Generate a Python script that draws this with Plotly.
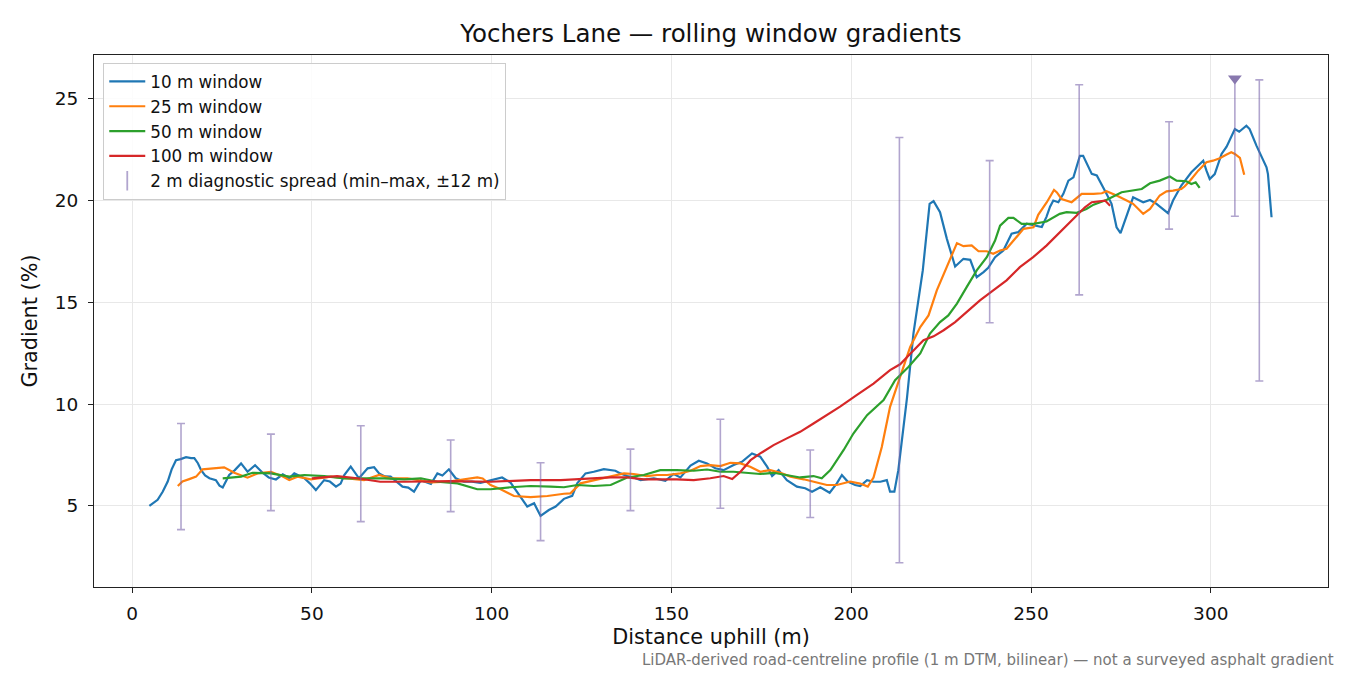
import plotly.graph_objects as go

# ---------------- data ----------------
x10 = [4.8, 6.0, 7.1, 8.5, 9.9, 11.0, 12.2, 13.5, 15.0, 16.4, 17.3, 18.3, 19.2, 20.3, 21.5, 23.3, 24.3,
       25.2, 27.0, 28.5, 30.3, 32.1, 34.2, 36.3, 38.0, 40.0, 41.9, 43.7, 45.1, 47.9, 49.5, 51.1, 53.4,
       55.0, 56.7, 58.0, 59.0, 60.8, 63.1, 65.5, 67.3, 68.7, 70.3, 71.9, 73.5, 75.2, 76.8, 78.4, 80.3,
       83.1, 84.9, 86.3, 88.1, 90.0, 92.3, 94.5, 96.9, 100.2, 102.9, 105.3, 107.6, 109.9, 111.8, 113.6,
       115.9, 117.8, 120.1, 121.5, 122.4, 123.8, 126.1, 128.4, 131.2, 134.4, 135.8, 137.7, 139.5, 141.4,
       145.1, 148.3, 150.6, 152.5, 155.3, 157.6, 159.9, 162.2, 164.5, 167.3, 169.6, 172.4, 174.7, 176.6,
       178.0, 179.8, 182.1, 184.9, 187.2, 189.1, 191.4, 194.0, 196.0, 197.4, 199.0, 201.1, 202.5, 204.4,
       206.2, 208.1, 209.9, 210.8, 212.0, 213.1, 215.5, 217.3, 219.9, 221.8, 222.9, 224.7, 226.6, 228.9,
       231.2, 233.1, 234.9, 236.8, 238.1, 240.0, 242.3, 244.6, 246.5, 248.8, 251.6, 253.0, 254.3, 255.3,
       256.2, 257.6, 259.0, 260.4, 261.8, 262.7, 263.6, 264.5, 265.9, 266.9, 268.3, 269.6, 271.0, 272.4,
       273.8, 274.9, 276.6, 278.4, 281.2, 283.1, 284.9, 288.1, 289.5, 291.8, 294.6, 296.5, 297.9, 298.8,
       299.7, 301.1, 303.0, 304.4, 305.7, 306.7, 307.9, 309.9, 310.8, 312.7, 315.5, 315.9, 316.9]
g10 = [5.0, 5.15, 5.3, 5.7, 6.2, 6.8, 7.25, 7.3, 7.4, 7.35, 7.35, 7.1, 6.76, 6.5, 6.36, 6.27, 6.0,
       5.91, 6.52, 6.75, 7.09, 6.68, 7.0, 6.63, 6.4, 6.3, 6.55, 6.36, 6.6, 6.36, 6.1, 5.78, 6.27,
       6.2, 5.95, 6.1, 6.52, 6.93, 6.36, 6.85, 6.9, 6.6, 6.45, 6.44, 6.2, 5.95, 5.9, 5.7, 6.27,
       6.08, 6.6, 6.5, 6.8, 6.36, 6.19, 6.2, 6.14, 6.27, 6.4, 6.14, 5.54, 4.97, 5.13, 4.51,
       4.8, 4.97, 5.35, 5.46, 5.5, 6.11, 6.6, 6.68, 6.81, 6.73, 6.6, 6.47, 6.4, 6.27,
       6.36, 6.23, 6.57, 6.4, 6.98, 7.22, 7.09, 6.85, 6.76, 7.01, 7.17, 7.58, 7.42, 6.93,
       6.47, 6.76, 6.27, 5.95, 5.87, 5.7, 5.92, 5.65, 6.11, 6.52, 6.2, 6.03, 5.98, 6.27,
       6.19, 6.19, 6.27, 5.7, 5.7, 6.76, 10.3, 13.47, 16.57, 19.84, 19.97, 19.43, 18.12, 16.76,
       17.14, 17.09, 16.24, 16.49, 16.7, 17.22, 17.55, 18.37, 18.45, 18.86, 18.77, 18.7, 19.2, 19.7,
       20.0, 19.92, 20.33, 20.98, 21.14, 21.63, 22.2, 22.2, 21.63, 21.31, 21.23, 20.82, 20.33, 19.84,
       18.69, 18.4, 19.26, 20.16, 19.92, 20.03, 19.84, 19.38, 20.0, 20.74, 21.39, 21.71, 21.96, 21.47,
       21.06, 21.3, 22.29, 22.65, 23.1, 23.51, 23.38, 23.68, 23.51, 22.7, 21.63, 21.3, 19.18]

x25 = [12.7, 14.0, 15.9, 17.8, 19.6, 22.9, 25.6, 28.4, 32.1, 34.9, 38.6, 41.4, 43.7, 46.0, 49.7, 55.3,
       60.8, 64.5, 68.7, 71.9, 76.6, 83.1, 87.7, 92.3, 96.0, 97.5, 99.7, 102.5, 106.2, 110.8, 115.5,
       120.1, 121.9, 124.7, 128.4, 133.1, 136.8, 139.5, 143.2, 146.0, 148.8, 152.5, 155.3, 158.1, 160.8,
       163.6, 166.4, 169.2, 171.9, 174.7, 177.5, 180.3, 183.1, 186.8, 189.5, 193.2, 196.0, 199.7, 202.5,
       204.6, 206.2, 208.5, 210.8, 213.6, 216.4, 219.2, 221.5, 223.8, 227.0, 229.4, 231.2, 233.5, 235.4,
       237.7, 239.5, 241.4, 243.2, 245.1, 247.9, 250.7, 252.0, 254.4, 256.4, 257.2, 258.5, 261.3, 264.1,
       267.4, 269.7, 271.0, 273.8, 276.6, 278.4, 281.2, 283.1, 285.8, 287.7, 289.5, 291.8, 292.7, 294.4,
       296.5, 298.8, 300.6, 302.5, 304.4, 305.7, 306.7, 308.1, 309.3]
g25 = [5.98, 6.2, 6.32, 6.44, 6.8, 6.85, 6.9, 6.63, 6.39, 6.6, 6.68, 6.49, 6.27, 6.44, 6.31, 6.44,
       6.36, 6.27, 6.52, 6.36, 6.36, 6.16, 6.19, 6.32, 6.4, 6.35, 6.03, 5.82, 5.49, 5.43, 5.49,
       5.6, 5.62, 6.11, 6.27, 6.44, 6.6, 6.57, 6.47, 6.52, 6.52, 6.6, 6.73, 6.96, 7.01,
       6.96, 7.12, 7.09, 6.93, 6.68, 6.76, 6.63, 6.44, 6.31, 6.19, 6.03, 6.03, 6.2, 6.1,
       5.95, 6.4, 7.9, 9.87, 11.34, 12.81, 13.79, 14.36, 15.59, 16.9, 17.91, 17.76, 17.8, 17.51,
       17.51, 17.39, 17.55, 17.63, 18.04, 18.61, 18.69, 19.3, 19.92, 20.52, 20.4, 20.08, 19.92, 20.33,
       20.33, 20.36, 20.46, 20.25, 20.0, 19.84, 19.35, 19.59, 20.25, 20.45, 20.49, 20.57, 20.69, 21.01,
       21.47, 21.88, 21.96, 22.08, 22.26, 22.37, 22.29, 22.1, 21.27]

x50 = [25.2, 30.3, 33.5, 38.6, 43.7, 47.9, 53.4, 59.0, 64.5, 70.1, 75.7, 80.3, 84.9, 90.5, 96.0, 99.7,
       105.3, 110.8, 116.4, 120.1, 123.8, 128.4, 133.1, 137.7, 142.3, 146.9, 151.5, 156.2, 159.9, 163.6,
       167.3, 171.0, 174.7, 178.4, 182.1, 185.8, 189.5, 191.8, 194.2, 197.9, 200.6, 204.4, 209.0, 212.2,
       215.9, 219.2, 221.9, 224.7, 227.0, 229.4, 232.1, 234.9, 237.7, 240.0, 241.4, 243.7, 245.1, 247.4,
       250.7, 254.3, 258.0, 259.9, 262.7, 265.4, 267.4, 271.1, 275.2, 278.4, 280.8, 283.1, 285.8, 288.6,
       290.5, 293.2, 294.6, 295.8, 296.9]
g50 = [6.36, 6.44, 6.63, 6.6, 6.44, 6.52, 6.47, 6.36, 6.36, 6.36, 6.31, 6.36, 6.19, 6.11, 5.82, 5.82,
       5.92, 5.98, 5.95, 5.92, 6.03, 5.98, 6.03, 6.4, 6.52, 6.76, 6.76, 6.73, 6.79, 6.68,
       6.68, 6.63, 6.57, 6.63, 6.52, 6.4, 6.47, 6.36, 6.76, 7.75, 8.56, 9.46, 10.2, 11.18,
       11.83, 12.49, 13.47, 14.03, 14.36, 14.94, 15.75, 16.57, 17.22, 18.04, 18.77, 19.15, 19.15, 18.86,
       18.86, 18.97, 19.35, 19.43, 19.4, 19.59, 19.8, 20.04, 20.41, 20.49, 20.57, 20.85, 20.98, 21.18,
       20.98, 20.95, 20.81, 20.9, 20.62]

x100 = [50.0, 57.0, 62.6, 69.0, 75.7, 83.1, 88.5, 99.7, 110.8, 119.2, 124.3, 128.4, 133.1, 137.7, 142.3,
        146.9, 151.5, 156.2, 160.8, 164.5, 166.9, 169.2, 172.0, 174.7, 178.4, 182.1, 185.8, 189.5, 193.2,
        196.9, 201.5, 206.2, 210.8, 213.6, 216.9, 220.1, 222.9, 225.7, 228.9, 232.1, 235.8, 239.5, 243.2,
        246.9, 250.6, 254.3, 258.0, 261.8, 265.0, 266.9, 270.6, 272.0]
g100 = [6.36, 6.47, 6.36, 6.19, 6.19, 6.22, 6.22, 6.19, 6.27, 6.27, 6.32, 6.36, 6.4, 6.4, 6.31,
        6.31, 6.31, 6.27, 6.36, 6.47, 6.32, 6.68, 7.25, 7.58, 7.99, 8.32, 8.64, 9.05, 9.46,
        9.88, 10.44, 11.01, 11.67, 11.96, 12.56, 13.14, 13.33, 13.63, 14.03, 14.52, 15.1, 15.59, 16.08,
        16.73, 17.22, 17.79, 18.45, 19.1, 19.67, 19.92, 20.0, 19.75]

spread_x = [13.6, 38.6, 63.6, 88.6, 113.6, 138.6, 163.6, 188.6, 213.4, 238.5, 263.4, 288.4, 306.7, 313.5]
spread_lo = [3.84, 4.77, 4.23, 4.72, 3.30, 4.77, 4.89, 4.43, 2.21, 14.0, 15.37, 18.6, 19.23, 11.14]
spread_hi = [9.05, 8.53, 8.94, 8.24, 7.12, 7.79, 9.26, 7.75, 23.1, 21.96, 25.69, 23.87, 26.0, 25.93]

peak_x = [306.7]
peak_y = [26.0]

series_names = ["10 m window", "25 m window", "50 m window", "100 m window"]
series_colors = ["#1f77b4", "#ff7f0e", "#2ca02c", "#d62728"]
spread_name = "2 m diagnostic spread (min\u2013max, \u00b112 m)"

TITLE = "Yochers Lane \u2014 rolling window gradients"
XLABEL = "Distance uphill (m)"
YLABEL = "Gradient (%)"
CAPTION = "LiDAR-derived road-centreline profile (1 m DTM, bilinear) \u2014 not a surveyed asphalt gradient"

FONT = "DejaVu Sans"
BAR_COLOR = "rgba(120, 100, 170, 0.58)"
PEAK_COLOR = "#8878ae"

# ---------------- figure ----------------
fig = go.Figure()
for xs, ys, name, col in zip([x10, x25, x50, x100], [g10, g25, g50, g100], series_names, series_colors):
    fig.add_trace(go.Scatter(x=xs, y=ys, mode="lines", name=name, legendgroup=name,
                             line=dict(color=col, width=2.2)))

# error bars (min-max) drawn from lo/hi arrays
fig.add_trace(go.Scatter(
    x=spread_x, y=spread_lo, mode="markers", showlegend=False,
    marker=dict(size=0.1, color="rgba(0,0,0,0)"),
    error_y=dict(type="data", symmetric=False,
                 array=[h - l for h, l in zip(spread_hi, spread_lo)],
                 arrayminus=[0] * len(spread_lo),
                 color=BAR_COLOR, thickness=1.6, width=4),
    hoverinfo="skip"))

fig.add_trace(go.Scatter(x=peak_x, y=peak_y, mode="markers", showlegend=False,
                         marker=dict(symbol="triangle-down", size=12, color=PEAK_COLOR)))

# legend proxy for the spread
fig.add_trace(go.Scatter(x=[None], y=[None], mode="markers", name=spread_name, legendgroup="spread",
                         marker=dict(symbol="line-ns-open", size=14,
                                     line=dict(color=BAR_COLOR, width=1.8), color=BAR_COLOR)))

axis_common = dict(showline=True, mirror=True, linecolor="#222222", linewidth=1.2,
                   ticks="outside", ticklen=5, tickwidth=1.2, tickcolor="#222222",
                   showgrid=True, gridcolor="#e8e8e8", gridwidth=1, zeroline=False,
                   tickfont=dict(family=FONT, size=18.5, color="#111111"))

fig.update_layout(
    width=1350, height=675,
    margin=dict(l=94, r=22, t=55, b=88),
    paper_bgcolor="white", plot_bgcolor="white",
    font=dict(family=FONT, color="#111111"),
    title=dict(text=TITLE, x=0.5, xref="paper", xanchor="center",
               y=1 - 33 / 675, yref="container", yanchor="middle",
               font=dict(family=FONT, size=24.5, color="#111111")),
    xaxis=dict(range=[-10.6, 332.6], tickvals=[0, 50, 100, 150, 200, 250, 300],
               ticklabelstandoff=5,
               title=dict(text=XLABEL, font=dict(family=FONT, size=20.8), standoff=6),
               **axis_common),
    yaxis=dict(range=[1.02, 27.15], tickvals=[5, 10, 15, 20, 25],
               ticklabelstandoff=6,
               title=dict(text=YLABEL, font=dict(family=FONT, size=20.8), standoff=11),
               **axis_common),
    legend=dict(x=0.0075, y=0.985, xanchor="left", yanchor="top",
                bgcolor="rgba(255,255,255,0.85)", bordercolor="#cccccc", borderwidth=1,
                font=dict(family=FONT, size=16.8, color="#111111"),
                tracegroupgap=0, itemwidth=36),
    showlegend=True,
)

fig.add_annotation(text=CAPTION, xref="paper", yref="paper", x=1.0065, y=(587 - 660) / 532,
                   xanchor="right", yanchor="middle", showarrow=False,
                   font=dict(family=FONT, size=15, color="#777777"))

fig.write_html("out.html", config={"displayModeBar": False},
               post_script="document.body.style.margin='0';")
